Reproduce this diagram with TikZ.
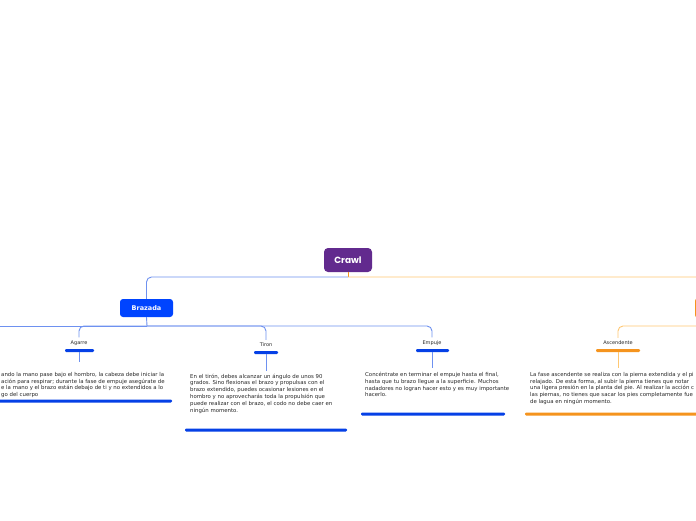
\documentclass[tikz,border=0pt]{standalone}
\usepackage{fontspec}
\setmainfont{DejaVu Sans}
\newfontfamily\popfont{Poppins}
\definecolor{crawlpurple}{RGB}{98,42,142}
\definecolor{brazblue}{RGB}{0,68,255}
\definecolor{barblue}{RGB}{5,64,230}
\definecolor{linkblue}{RGB}{110,145,240}
\definecolor{linkorange}{RGB}{255,200,115}
\definecolor{barorange}{RGB}{245,148,30}
\definecolor{txt}{RGB}{40,40,40}
\tikzset{
  mainnode/.style={fill=crawlpurple, rounded corners=4pt, text=white, minimum width=48pt, minimum height=24pt, inner sep=0pt, font=\popfont\fontsize{9}{10}\selectfont\bfseries},
  subnode/.style={fill=brazblue, rounded corners=3pt, text=white, minimum width=53pt, minimum height=18pt, inner sep=0pt, font=\fontsize{6.5}{7}\selectfont\bfseries},
  orangenode/.style={fill=barorange, rounded corners=3pt, minimum width=60pt, minimum height=20pt, inner sep=0pt},
  leaflabel/.style={text=txt, inner sep=3pt, font=\fontsize{5}{6}\selectfont},
  bodytext/.style={text=txt, inner sep=0pt, align=left, font=\fontsize{5.4}{6.8}\selectfont},
  bluebar/.style={fill=barblue, rounded corners=1.2pt, minimum height=3pt, inner sep=0pt},
  orangebar/.style={fill=barorange, rounded corners=1.2pt, minimum height=3pt, inner sep=0pt},
  bluelink/.style={draw=linkblue, line width=0.9pt},
  orangelink/.style={draw=linkorange, line width=0.9pt},
}
\begin{document}
\begin{tikzpicture}[x=1pt,y=-1pt]
\clip (0,0) rectangle (696,520);
\fill[white] (0,0) rectangle (696,520);

% main nodes
\node[mainnode] (crawl) at (348,260) {Crawl};
\node[subnode] (brazada) at (146.5,308) {Brazada};
\node[orangenode] (patada) at (725,308) {};

\coordinate (cj) at (348,277);
\coordinate (bj) at (147,326);
\coordinate (bleft) at (-10,326);
\coordinate (pj) at (725,326);
\coordinate (pright) at (760,326);

\draw[draw=barorange, line width=0.9pt] (crawl.south) -- (cj);
\draw[bluelink, rounded corners=5pt] (cj) -| (brazada.north);
\draw[orangelink, rounded corners=5pt] (cj) -| (patada.north);
\draw[bluelink] (brazada.south) -- (bj);
\draw[orangelink] (patada.south) -- (pj);

% leaf labels
\node[leaflabel] (agarre) at (79,343) {Agarre};
\node[leaflabel] (tiron) at (266,345) {Tiron};
\node[leaflabel] (empuje) at (432,343) {Empuje};
\node[leaflabel] (asc) at (618,343) {Ascendente};

\draw[bluelink] (bj) -- (bleft);
\draw[bluelink, rounded corners=5pt] (bj) -| (agarre.north);
\draw[bluelink, rounded corners=5pt] (bj) -| (tiron.north);
\draw[bluelink, rounded corners=5pt] (bj) -| (empuje.north);
\draw[orangelink] (pj) -- (pright);
\draw[orangelink, rounded corners=5pt] (pj) -| (asc.north);

% underline bars
\node[bluebar, minimum width=29pt] (agul) at (79.5,350.5) {};
\node[bluebar, minimum width=24pt] (tiul) at (266,352.5) {};
\node[bluebar, minimum width=33pt] (emul) at (432.5,350.5) {};
\node[orangebar, minimum width=44pt] (asul) at (618,350.5) {};

% body texts
\node[bodytext, anchor=north west] (agtext) at (1,372) {ando la mano pase bajo el hombro, la cabeza debe iniciar la\\ación para respirar; durante la fase de empuje asegúrate de\\e la mano y el brazo están debajo de ti y no extendidos a lo\\go del cuerpo};
\node[bodytext, anchor=north west] (titext) at (190,373.5) {En el tirón, debes alcanzar un ángulo de unos 90\\grados. Sino flexionas el brazo y propulsas con el\\brazo extendido, puedes ocasionar lesiones en el\\hombro y no aprovecharás toda la propulsión que\\puede realizar con el brazo, el codo no debe caer en\\ningún momento.};
\node[bodytext, anchor=north west] (emtext) at (365,372) {Concéntrate en terminar el empuje hasta el final,\\hasta que tu brazo llegue a la superficie. Muchos\\nadadores no logran hacer esto y es muy importante\\hacerlo.};
\node[bodytext, anchor=north west] (astext) at (530,372) {La fase ascendente se realiza con la pierna extendida y el pi\\relajado. De esta forma, al subir la pierna tienes que notar\\una ligera presión en la planta del pie. Al realizar la acción c\\las piernas, no tienes que sacar los pies completamente fue\\de lagua en ningún momento.};

\draw[bluelink] (agul.south) -- ([yshift=10pt]agul.south |- agtext.north);
\draw[bluelink] (tiul.south) -- ([yshift=3pt]tiul.south |- titext.north);
\draw[bluelink] (emul.south) -- ([yshift=4pt]emul.south |- emtext.north);
\draw[orangelink] (asul.south) -- ([yshift=4pt]asul.south |- astext.north);

% bottom bars
\node[bluebar, minimum width=176pt] (agbot) at (84,401) {};
\node[bluebar, minimum width=162pt] (tibot) at (266,430) {};
\node[bluebar, minimum width=144pt] (embot) at (433,414) {};
\node[orangebar, minimum width=176pt] (asbot) at (613,414) {};
\end{tikzpicture}
\end{document}
